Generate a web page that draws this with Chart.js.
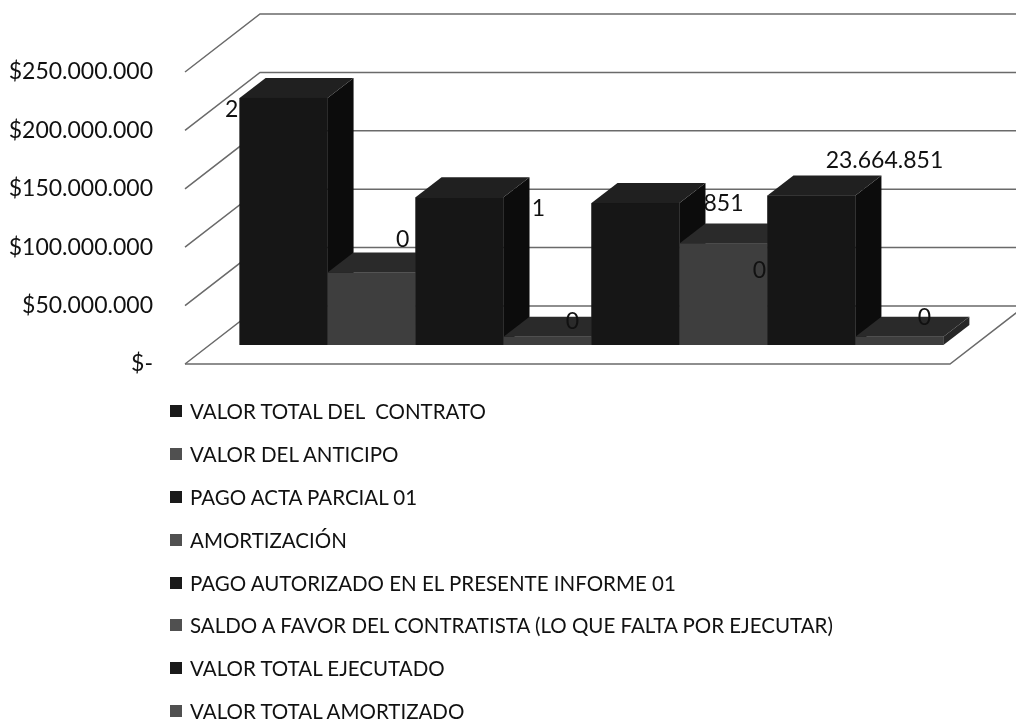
<!DOCTYPE html>
<html>
<head>
<meta charset="utf-8">
<script src="https://cdn.jsdelivr.net/npm/chart.js@4"></script>
<style>
    body { margin: 0; background: #fff; }
    #wrap { position: relative; width: 1016px; height: 724px; }
    #legend {
        position: absolute; left: 170px; top: 390px; margin: 0; padding: 0;
        list-style: none; font-family: Lato, sans-serif; font-size: 20.5px; color: #111;
    }
    #legend li { height: 42.8px; display: flex; align-items: center; white-space: pre; }
    #legend span.box { width: 12px; height: 12px; margin-right: 8px; display: inline-block; }
</style>
</head>
<body>
<div id="wrap">
    <canvas id="chart" width="1016" height="724"></canvas>
    <ul id="legend"></ul>
</div>
<script>
// Chart data
const categories = [''];
const seriesNames = [
    'VALOR TOTAL DEL  CONTRATO',
    'VALOR DEL ANTICIPO',
    'PAGO ACTA PARCIAL 01',
    'AMORTIZACIÓN',
    'PAGO AUTORIZADO EN EL PRESENTE INFORME 01',
    'SALDO A FAVOR DEL CONTRATISTA (LO QUE FALTA POR EJECUTAR)',
    'VALOR TOTAL EJECUTADO',
    'VALOR TOTAL AMORTIZADO'
];
const seriesValues = [211500000, 62000000, 126500000, 7000000, 121500000, 87000000, 128000000, 7000000];
const dataLabels = ['2', '0', '1', '0', '851', '0', '23.664.851', '0'];
const tickValues = [0, 50000000, 100000000, 150000000, 200000000, 250000000];

// Styles
const frontColors = ['#161616', '#3e3e3e'];
const topColors = ['#202020', '#2a2a2a'];
const sideColors = ['#0c0c0c', '#262626'];
const depth = { dx: 26, dy: 20 };        // depth of each bar
const wall = { dx: 51, dy: 39 };         // back wall behind bar plane
const front = { dx: -24, dy: 19 };       // front axis in front of bar plane
const labelOffsets = [[-52, 12], [31, -33], [79, 11], [25, -15], [88, 0], [36, 27], [73, -35], [25, -19]];
const NUM_FONT = '23px Lato, sans-serif';

function formatMoney(v) {
    if (v === 0) return '$-';
    return '$' + v.toLocaleString('de-DE');
}

// Back wall, side diagonals, floor and the 3D faces of the bars
const wallPlugin = {
    id: 'wall',
    beforeDatasetsDraw(chart) {
        const ctx = chart.ctx;
        const area = chart.chartArea;
        const y = chart.scales.y;
        ctx.save();
        ctx.strokeStyle = '#6a6a6a';
        ctx.lineWidth = 1.5;
        tickValues.forEach(v => {
            const py = y.getPixelForValue(v);
            ctx.beginPath();
            ctx.moveTo(area.left + front.dx, py + front.dy);
            ctx.lineTo(area.left + wall.dx, py - wall.dy);
            ctx.lineTo(chart.width, py - wall.dy);
            ctx.stroke();
        });
        const py0 = y.getPixelForValue(0);
        ctx.beginPath();
        ctx.moveTo(area.left + front.dx, py0 + front.dy);
        ctx.lineTo(area.right + front.dx, py0 + front.dy);
        ctx.lineTo(area.right + wall.dx, py0 - wall.dy);
        ctx.stroke();
        ctx.restore();
    },
    afterDatasetsDraw(chart) {
        const ctx = chart.ctx;
        ctx.save();
        // left to right so each bar hides the side face of the one before it
        chart.data.datasets.forEach((ds, i) => {
            const p = chart.getDatasetMeta(i).data[0].getProps(['x', 'y', 'base', 'width'], true);
            const l = p.x - p.width / 2, r = p.x + p.width / 2;
            ctx.fillStyle = sideColors[i % 2];
            ctx.beginPath();
            ctx.moveTo(r, p.y);
            ctx.lineTo(r + depth.dx, p.y - depth.dy);
            ctx.lineTo(r + depth.dx, p.base - depth.dy);
            ctx.lineTo(r, p.base);
            ctx.closePath();
            ctx.fill();
            ctx.fillStyle = topColors[i % 2];
            ctx.beginPath();
            ctx.moveTo(l, p.y);
            ctx.lineTo(l + depth.dx, p.y - depth.dy);
            ctx.lineTo(r + depth.dx, p.y - depth.dy);
            ctx.lineTo(r, p.y);
            ctx.closePath();
            ctx.fill();
            ctx.fillStyle = frontColors[i % 2];
            ctx.fillRect(l, p.y, r - l, p.base - p.y);
        });
        // data labels
        ctx.font = NUM_FONT;
        ctx.fillStyle = '#111';
        ctx.textAlign = 'center';
        ctx.textBaseline = 'middle';
        chart.data.datasets.forEach((ds, i) => {
            const p = chart.getDatasetMeta(i).data[0].getProps(['x', 'y'], true);
            ctx.fillText(dataLabels[i], p.x + labelOffsets[i][0], p.y + labelOffsets[i][1]);
        });
        ctx.restore();
    }
};

const chart = new Chart(document.getElementById('chart'), {
    type: 'bar',
    data: {
        labels: categories,
        datasets: seriesNames.map((name, i) => ({
            label: name,
            data: [seriesValues[i]],
            backgroundColor: frontColors[i % 2],
            barPercentage: 1,
            categoryPercentage: 0.92
        }))
    },
    options: {
        responsive: false,
        animation: false,
        layout: { padding: { left: 0, right: 42, top: 53, bottom: 379 } },
        plugins: { legend: { display: false }, tooltip: { enabled: false } },
        scales: {
            x: { display: false },
            y: {
                min: 0,
                max: 250000000,
                afterFit: s => {
                    s.width = 209;
                    s.paddingTop = 0;
                    s.paddingBottom = 0;
                },
                grid: { display: false },
                border: { display: false },
                ticks: {
                    stepSize: 50000000,
                    labelOffset: 19,
                    padding: 48,
                    color: '#111',
                    font: { family: 'Lato', size: 23 },
                    callback: v => formatMoney(v)
                }
            }
        }
    },
    plugins: [wallPlugin]
});

// Legend
const legend = document.getElementById('legend');
seriesNames.forEach((name, i) => {
    const li = document.createElement('li');
    li.innerHTML = '<span class="box" style="background:' + (i % 2 ? '#505050' : '#1a1a1a') + '"></span>' + name;
    legend.appendChild(li);
});
</script>
</body>
</html>
